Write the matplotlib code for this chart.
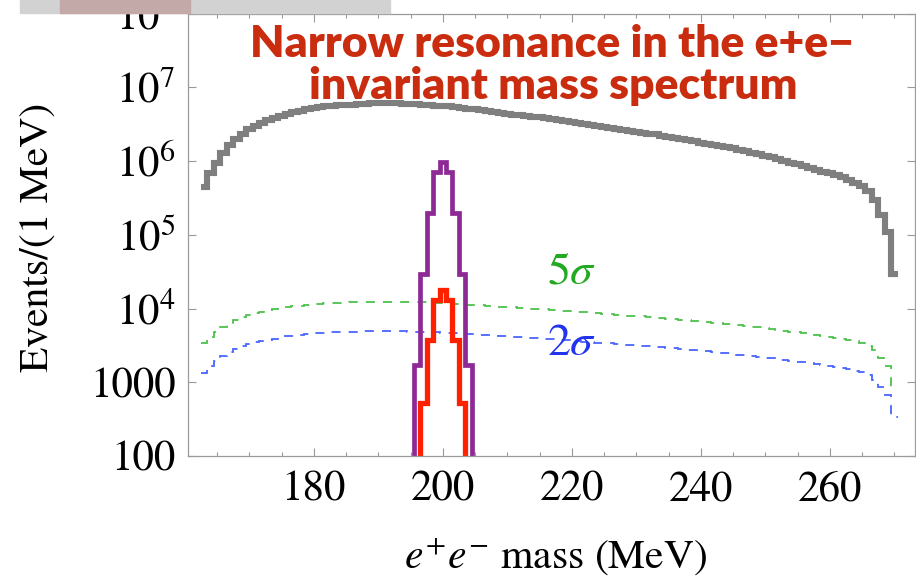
import numpy as np
import matplotlib.pyplot as plt
from matplotlib.patches import Rectangle

plt.rcParams['font.family'] = ['STIXGeneral', 'DejaVu Serif']
plt.rcParams['mathtext.fontset'] = 'stix'

# background spectrum, events per 1 MeV bin, bins centred on 163 ... 270 MeV
bkg_first_bin = 163
background = [
    4.5e5, 6.9e5, 9.5e5, 1.29e6, 1.66e6, 2.0e6, 2.34e6, 2.75e6, 3.02e6, 3.31e6,
    3.55e6, 3.80e6, 4.07e6, 4.37e6, 4.57e6, 4.79e6, 5.01e6, 5.25e6, 5.37e6, 5.50e6,
    5.62e6, 5.69e6, 5.75e6, 5.82e6, 5.89e6, 5.96e6, 6.03e6, 6.03e6, 6.03e6, 6.03e6,
    6.03e6, 5.96e6, 5.89e6, 5.89e6, 5.82e6, 5.75e6, 5.62e6, 5.56e6, 5.50e6, 5.37e6,
    5.25e6, 5.13e6, 5.01e6, 4.90e6, 4.79e6, 4.68e6, 4.52e6, 4.37e6, 4.27e6, 4.17e6,
    4.07e6, 3.98e6, 3.89e6, 3.80e6, 3.67e6, 3.55e6, 3.47e6, 3.39e6, 3.27e6, 3.16e6,
    3.09e6, 2.99e6, 2.88e6, 2.82e6, 2.72e6, 2.63e6, 2.57e6, 2.51e6, 2.43e6, 2.34e6,
    2.29e6, 2.21e6, 2.14e6, 2.07e6, 2.00e6, 1.93e6, 1.86e6, 1.78e6, 1.72e6, 1.66e6,
    1.58e6, 1.53e6, 1.48e6, 1.41e6, 1.35e6, 1.29e6, 1.23e6, 1.17e6, 1.12e6, 1.07e6,
    1.01e6, 9.5e5, 9.1e5, 8.6e5, 8.1e5, 7.6e5, 7.2e5, 6.9e5, 6.5e5, 6.0e5,
    5.6e5, 5.1e5, 4.6e5, 3.9e5, 2.95e5, 1.85e5, 1.1e5, 2.9e4,
]

# resonance signal, two couplings
big_first_bin = 196
signal_big = [1.7e3, 2.9e4, 2.0e5, 7.0e5, 9.8e5, 7.0e5, 2.0e5, 2.9e4, 1.7e3]
small_first_bin = 197
signal_small = [5.2e2, 3.7e3, 1.3e4, 1.8e4, 1.3e4, 3.7e3, 5.2e2]

x_ticks = [180, 200, 220, 240, 260]
y_ticks = [1e2, 1e3, 1e4, 1e5, 1e6, 1e7, 1e8]
y_tick_labels = ['100', '1000', '$10^{4}$', '$10^{5}$', '$10^{6}$', '$10^{7}$', '$10^{8}$']

background = np.array(background)
bkg_edges = np.arange(len(background) + 1) + bkg_first_bin - 0.5
big_edges = np.arange(len(signal_big) + 1) + big_first_bin - 0.5
small_edges = np.arange(len(signal_small) + 1) + small_first_bin - 0.5

# signal needed for 5 sigma / 2 sigma over the background in each bin
need_5sig = 5 * np.sqrt(background)
need_2sig = 2 * np.sqrt(background)

fig = plt.figure(figsize=(9.16, 5.79), dpi=100)
ax = fig.add_axes([188 / 916, 1 - 456 / 579, 727 / 916, 442.5 / 579])

ax.stairs(background, bkg_edges, baseline=None, color='#7f7f7f', lw=4.4)
ax.stairs(need_5sig, bkg_edges, baseline=None, color='#4cc24c', lw=1.3,
          linestyle=(0, (5, 4.5)))
ax.stairs(need_2sig, bkg_edges, baseline=None, color='#4a66ff', lw=1.3,
          linestyle=(0, (5, 4.5)))
ax.stairs(signal_big, big_edges, baseline=1, color='#8e2a96', lw=3.4)
ax.stairs(signal_small, small_edges, baseline=1, color='#ff2000', lw=3.8)

ax.set_yscale('log')
ax.set_xlim(160.5, 273.2)
ax.set_ylim(1e2, 1e8)

ax.set_xticks(x_ticks)
ax.set_xticks(np.arange(165, 275, 5), minor=True)
ax.set_yticks(y_ticks)
ax.set_yticklabels(y_tick_labels)

for s in ax.spines.values():
    s.set_color('#9a9a9a')
    s.set_linewidth(0.9)
ax.tick_params(which='both', direction='in', top=True, right=True, color='#9a9a9a',
               labelsize=31, width=0.8)
ax.tick_params(which='major', length=6, pad=9)
ax.tick_params(which='minor', length=3)
ax.tick_params(axis='x', which='major', pad=11)

ax.text(220, 3.0e4, r'$5\sigma$', color='#22aa22', fontsize=33, ha='center', va='center')
ax.text(220, 3.3e3, r'$2\sigma$', color='#2233ee', fontsize=33, ha='center', va='center')

title_font = ['Lato', 'DejaVu Sans']
fig.text(552 / 916, 1 - 44 / 579, 'Narrow resonance in the e+e\u2212', color='#c92c0e',
         fontsize=32, fontweight='heavy', family=title_font, ha='center', va='center')
fig.text(553 / 916, 1 - 86 / 579, 'invariant mass spectrum', color='#c92c0e',
         fontsize=32, fontweight='heavy', family=title_font, ha='center', va='center')

fig.text(38 / 916, 1 - 237 / 579, 'Events/(1 MeV)', rotation=90, fontsize=30,
         ha='center', va='center')
fig.text(556 / 916, 1 - 556 / 579, r'$e^{+}e^{-}$ mass (MeV)', fontsize=30,
         ha='center', va='center')

# strip of the slide behind the plot, across the top-left corner
fig.patches.append(Rectangle((20 / 916, 1 - 13 / 579), 370 / 916, 13 / 579,
                             transform=fig.transFigure, color='#d2d2d2', zorder=10))
fig.patches.append(Rectangle((60 / 916, 1 - 13 / 579), 130 / 916, 13 / 579,
                             transform=fig.transFigure, color='#c4a9a9', zorder=11))

fig.savefig('out.png', dpi=100)
